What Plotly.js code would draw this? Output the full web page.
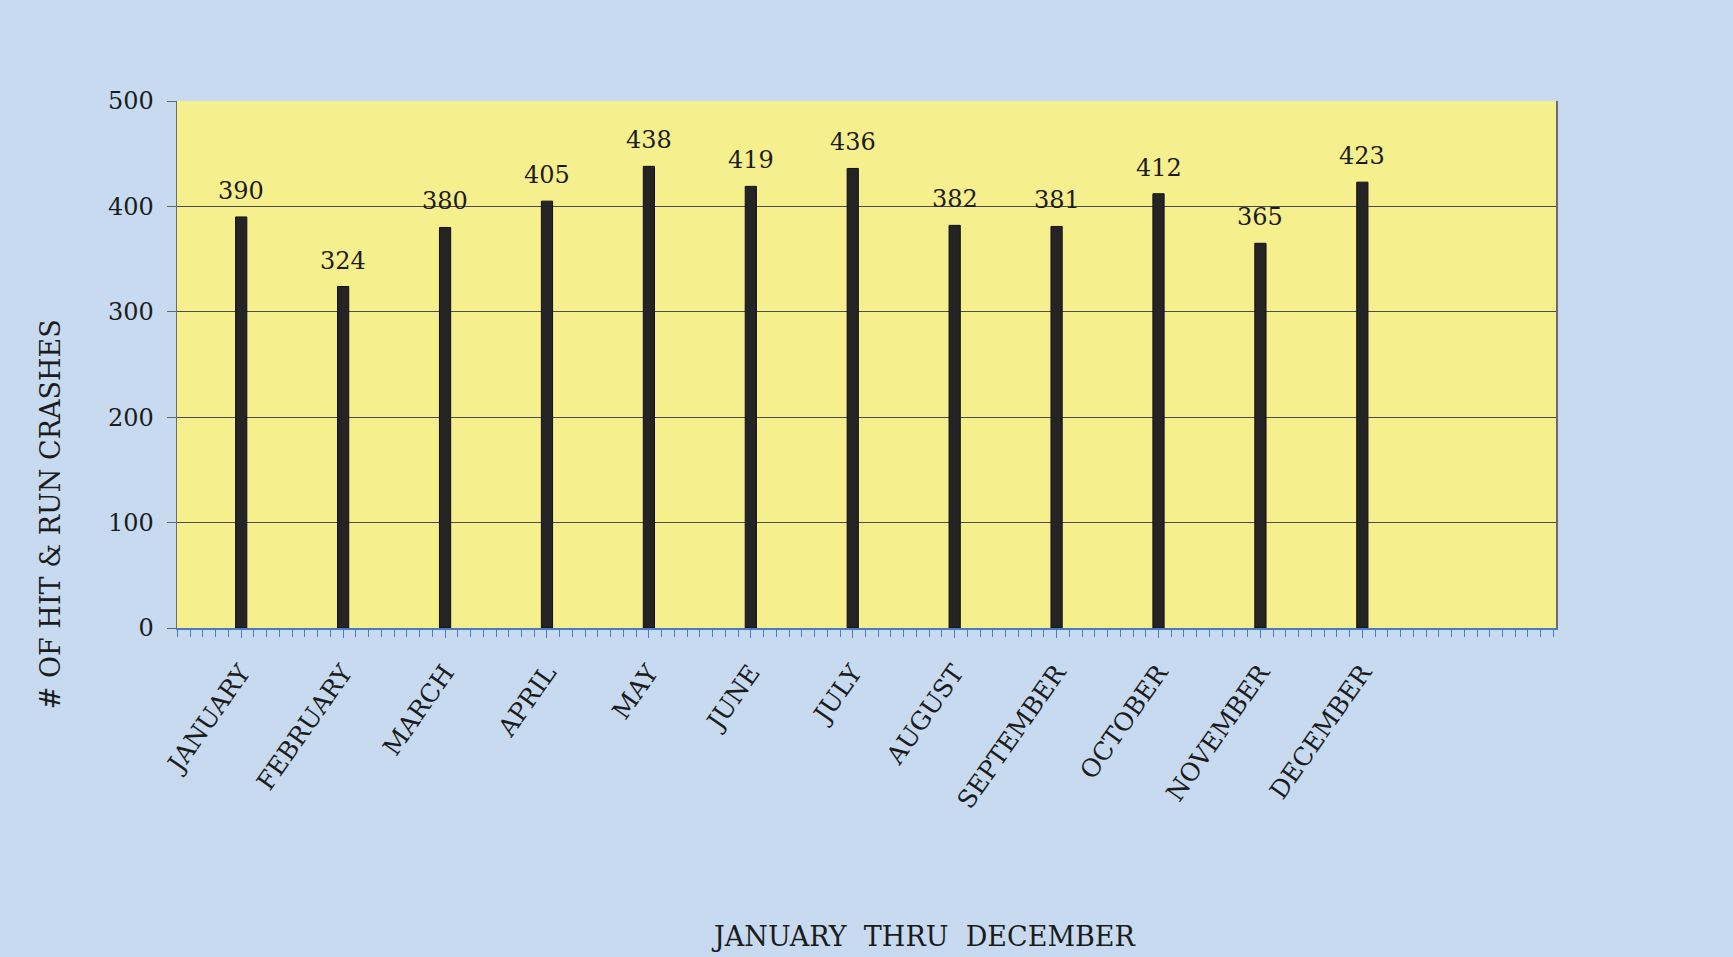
<!DOCTYPE html>
<html>
<head>
<meta charset="utf-8">
<script src="https://cdn.plot.ly/plotly-3.0.1.min.js"></script>
<style>
html,body{margin:0;padding:0;background:#c9dcf1;}
#chart{width:1733px;height:957px;}
</style>
</head>
<body>
<div id="chart"></div>
<script>
const months = ["JANUARY","FEBRUARY","MARCH","APRIL","MAY","JUNE","JULY","AUGUST","SEPTEMBER","OCTOBER","NOVEMBER","DECEMBER"];
const crashes = [390,324,380,405,438,419,436,382,381,412,365,423];
const yTicks = [0,100,200,300,400,500];
const xTitle = "JANUARY  THRU  DECEMBER";
const yTitle = "# OF HIT &amp; RUN CRASHES";

const idx = months.map((m,i)=>i);
const serif = "DejaVu Serif, Liberation Serif, serif";

const trace = {
  type: "bar",
  x: idx,
  y: crashes,
  width: 0.11,
  marker: {color: "#242424", line: {color: "#111", width: 1}},
  hoverinfo: "x+y"
};

const valueLabels = crashes.map((v,i)=>({
  text: String(v), x: idx[i], y: v, xref: "x", yref: "y",
  showarrow: false, xanchor: "center", yanchor: "bottom", yshift: 10,
  font: {family: serif, size: 24, color: "#1c1c1c"}
}));

const layout = {
  width: 1733, height: 957,
  margin: {l: 177, r: 177, t: 101, b: 329},
  paper_bgcolor: "#c7daf0",
  plot_bgcolor: "#f6ef8e",
  showlegend: false,
  bargap: 0,
  xaxis: {
    type: "linear",
    range: [-0.63, 12.9],
    tickvals: idx,
    ticktext: months,
    tickangle: -55,
    tickfont: {family: serif, size: 25, color: "#1c1c1c"},
    ticks: "outside", ticklen: 8, tickcolor: "#4a7cc0", tickwidth: 1,
    minor: {dtick: 0.125, ticks: "outside", ticklen: 7, tickcolor: "#4a7cc0", tickwidth: 1, showgrid: false},
    ticklabelstandoff: 10,
    showline: true, linecolor: "#4a7cc0", linewidth: 2,
    showgrid: false, zeroline: false
  },
  yaxis: {
    range: [0, 500],
    tickvals: yTicks,
    tickfont: {family: serif, size: 24, color: "#1c1c1c"},
    ticks: "outside", ticklen: 9, tickcolor: "#666", tickwidth: 1,
    ticklabelstandoff: 8,
    showline: true, linecolor: "#6b6b6b", linewidth: 1.5, mirror: true,
    showgrid: true, gridcolor: "#4d4d4d", gridwidth: 1,
    zeroline: false
  },
  annotations: valueLabels.concat([
    {text: yTitle, xref: "paper", yref: "paper", x: -0.092, y: 0.216, textangle: -90,
     showarrow: false, xanchor: "center", yanchor: "middle",
     font: {family: serif, size: 27, color: "#1c1c1c"}},
    {text: xTitle, xref: "paper", yref: "paper", x: 0.541, y: -0.586,
     showarrow: false, xanchor: "center", yanchor: "middle",
     font: {family: serif, size: 27, color: "#1c1c1c"}}
  ])
};

Plotly.newPlot("chart", [trace], layout, {displayModeBar: false, staticPlot: true});
</script>
</body>
</html>
